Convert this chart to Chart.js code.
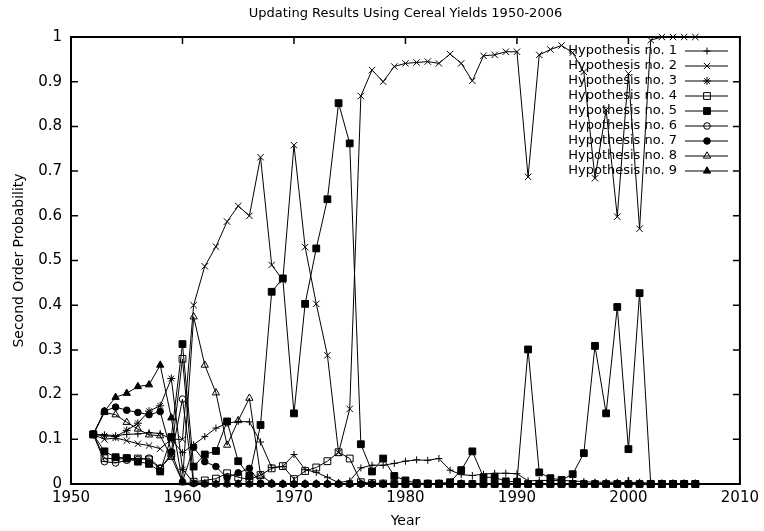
<!DOCTYPE html>
<html><head><meta charset="utf-8">
<script src="https://cdn.jsdelivr.net/npm/chart.js@4/dist/chart.umd.min.js"></script>
<style>html,body{margin:0;padding:0;background:#fff}</style>
</head><body>
<canvas id="c" width="764" height="531" style="width:764px;height:531px;display:block"></canvas>
<script>
const chartTitle = "Updating Results Using Cereal Yields 1950-2006";
const xTitle = "Year";
const yTitle = "Second Order Probability";
const xTicks = [1950,1960,1970,1980,1990,2000,2010];
const yTicks = [0,0.1,0.2,0.3,0.4,0.5,0.6,0.7,0.8,0.9,1];
const yTickLabels = ["0","0.1","0.2","0.3","0.4","0.5","0.6","0.7","0.8","0.9","1"];
const seriesNames = ["Hypothesis no. 1","Hypothesis no. 2","Hypothesis no. 3","Hypothesis no. 4","Hypothesis no. 5","Hypothesis no. 6","Hypothesis no. 7","Hypothesis no. 8","Hypothesis no. 9"];
const years = [1952,1953,1954,1955,1956,1957,1958,1959,1960,1961,
1962,1963,1964,1965,1966,1967,1968,1969,1970,1971,
1972,1973,1974,1975,1976,1977,1978,1979,1980,1981,
1982,1983,1984,1985,1986,1987,1988,1989,1990,1991,
1992,1993,1994,1995,1996,1997,1998,1999,2000,2001,
2002,2003,2004,2005,2006];
const hyp1 = [0.111,0.110,0.108,0.111,0.112,0.115,0.113,0.100,0.070,0.088,
0.106,0.125,0.136,0.140,0.139,0.094,0.037,0.039,0.066,0.032,
0.026,0.015,0.003,0.007,0.036,0.042,0.042,0.046,0.051,0.054,
0.053,0.057,0.031,0.021,0.019,0.022,0.024,0.024,0.023,0.007,
0.008,0.008,0.008,0.007,0.005,0.004,0.004,0.004,0.003,0.004,
0.001,0,0,0,0];
const hyp2 = [0.111,0.100,0.103,0.097,0.090,0.086,0.079,0.100,0.100,0.400,
0.487,0.531,0.587,0.622,0.600,0.731,0.490,0.456,0.758,0.530,
0.403,0.288,0.070,0.168,0.868,0.926,0.900,0.934,0.941,0.943,
0.945,0.941,0.962,0.941,0.902,0.958,0.960,0.967,0.967,0.687,
0.960,0.972,0.981,0.965,0.922,0.684,0.837,0.598,0.918,0.571,
0.993,1,1,1,1];
const hyp3 = [0.111,0.108,0.106,0.120,0.136,0.163,0.175,0.236,0.033,0.003,
0.002,0.001,0.001,0.001,0.001,0,0,0,0,0,
0,0,0,0,0,0,0,0,0,0,
0,0,0,0,0,0,0,0,0,0,
0,0,0,0,0,0,0,0,0,0,
0,0,0,0,0];
const hyp4 = [0.111,0.058,0.056,0.057,0.057,0.055,0.034,0.068,0.280,0.005,
0.008,0.012,0.024,0.015,0.010,0.020,0.035,0.040,0.011,0.029,
0.037,0.051,0.071,0.057,0.004,0.002,0.001,0,0,0,
0,0,0,0,0,0,0,0,0,0,
0,0,0,0,0,0,0,0,0,0,
0,0,0,0,0];
const hyp5 = [0.111,0.073,0.060,0.058,0.050,0.045,0.028,0.105,0.313,0.039,
0.066,0.074,0.140,0.051,0.018,0.132,0.430,0.460,0.158,0.403,
0.527,0.637,0.852,0.762,0.089,0.028,0.057,0.018,0.008,0.002,
0.001,0.001,0.004,0.031,0.073,0.015,0.015,0.006,0.005,0.301,
0.026,0.013,0.009,0.022,0.069,0.309,0.158,0.396,0.078,0.427,
0,0,0,0,0];
const hyp6 = [0.111,0.050,0.047,0.053,0.055,0.058,0.036,0.062,0.190,0.001,
0,0,0,0,0,0,0,0,0,0,
0,0,0,0,0,0,0,0,0,0,
0,0,0,0,0,0,0,0,0,0,
0,0,0,0,0,0,0,0,0,0,
0,0,0,0,0];
const hyp7 = [0.111,0.163,0.172,0.165,0.160,0.155,0.162,0.072,0.005,0.082,
0.050,0.039,0.014,0.025,0.035,0.002,0.001,0,0,0,
0,0,0,0,0,0,0,0,0,0,
0,0,0,0,0,0,0,0,0,0,
0,0,0,0,0,0,0,0,0,0,
0,0,0,0,0];
const hyp8 = [0.111,0.160,0.155,0.138,0.123,0.110,0.108,0.060,0.005,0.374,
0.266,0.204,0.087,0.142,0.192,0.020,0.002,0,0,0,
0,0,0,0,0,0,0,0,0,0,
0,0,0,0,0,0,0,0,0,0,
0,0,0,0,0,0,0,0,0,0,
0,0,0,0,0];
const hyp9 = [0.111,0.163,0.194,0.203,0.218,0.222,0.266,0.148,0.003,0.001,
0,0,0,0,0,0,0,0,0,0,
0,0,0,0,0,0,0,0,0,0,
0,0,0,0,0,0,0,0,0,0,
0,0,0,0,0,0,0,0,0,0,
0,0,0,0,0];

const allSeries = [hyp1,hyp2,hyp3,hyp4,hyp5,hyp6,hyp7,hyp8,hyp9];
const markerStyles = [
  {style:'cross', r:3.5, fill:'rgba(0,0,0,0)'},
  {style:'crossRot', r:4.5, fill:'rgba(0,0,0,0)'},
  {style:'star', r:4, fill:'rgba(0,0,0,0)'},
  {style:'rect', r:4.8, fill:'rgba(0,0,0,0)'},
  {style:'rect', r:4.8, fill:'#000'},
  {style:'circle', r:3.3, fill:'rgba(0,0,0,0)'},
  {style:'circle', r:3.3, fill:'#000'},
  {style:'triangle', r:4.2, fill:'rgba(0,0,0,0)'},
  {style:'triangle', r:4.2, fill:'#000'}
];
const FONT = '"DejaVu Sans", "Liberation Sans", sans-serif';

const datasets = allSeries.map((vals, i) => ({
  label: seriesNames[i],
  data: years.map((yr, k) => ({x: yr, y: vals[k]})),
  borderColor: '#000',
  borderWidth: 1,
  pointStyle: markerStyles[i].style,
  pointRadius: markerStyles[i].r,
  pointBorderColor: '#000',
  pointBackgroundColor: markerStyles[i].fill,
  pointBorderWidth: 1,
  tension: 0,
  fill: false,
  clip: false
}));

function drawMarker(ctx, m, x, y) {
  if (Chart.helpers && Chart.helpers.drawPoint) {
    ctx.fillStyle = m.fill; ctx.strokeStyle = '#000'; ctx.lineWidth = 1;
    Chart.helpers.drawPoint(ctx, {pointStyle: m.style, radius: m.r, borderWidth: 1, rotation: 0}, x, y);
  }
}

const framePlugin = {
  id: 'frame',
  beforeDatasetsDraw(chart) {
    const {ctx, chartArea: a, scales: {x, y}} = chart;
    ctx.save();
    ctx.strokeStyle = '#000';
    ctx.lineWidth = 2;
    ctx.strokeRect(a.left, a.top, a.right - a.left, a.bottom - a.top);
    ctx.lineWidth = 1.5;
    ctx.beginPath();
    xTicks.forEach(v => {
      const px = x.getPixelForValue(v);
      ctx.moveTo(px, a.bottom); ctx.lineTo(px, a.bottom - 7);
      ctx.moveTo(px, a.top); ctx.lineTo(px, a.top + 7);
    });
    yTicks.forEach(v => {
      const py = y.getPixelForValue(v);
      ctx.moveTo(a.left, py); ctx.lineTo(a.left + 7, py);
      ctx.moveTo(a.right, py); ctx.lineTo(a.right - 7, py);
    });
    ctx.stroke();

    ctx.fillStyle = '#000';
    ctx.textAlign = 'center';
    ctx.textBaseline = 'middle';
    ctx.font = '13px ' + FONT;
    const cx = (a.left + a.right) / 2;
    ctx.fillText(chartTitle, cx, 14);
    ctx.font = '14px ' + FONT;
    ctx.fillText(xTitle, cx, 521);
    ctx.save();
    ctx.translate(19, (a.top + a.bottom) / 2);
    ctx.rotate(-Math.PI / 2);
    ctx.font = '14px ' + FONT;
    ctx.fillText(yTitle, 0, 0);
    ctx.restore();

    // legend
    ctx.font = '13px ' + FONT;
    ctx.textAlign = 'right';
    seriesNames.forEach((name, i) => {
      const ry = 51 + 15 * i;
      ctx.fillStyle = '#000';
      ctx.fillText(name, 677, ry);
      ctx.beginPath();
      ctx.lineWidth = 1;
      ctx.strokeStyle = '#000';
      ctx.moveTo(685, ry); ctx.lineTo(728, ry);
      ctx.stroke();
      drawMarker(ctx, markerStyles[i], 707, ry);
    });
    ctx.restore();
  }
};

new Chart(document.getElementById('c'), {
  type: 'line',
  data: {datasets},
  options: {
    responsive: false,
    animation: false,
    devicePixelRatio: 1,
    layout: {padding: {top: 37, right: 18, left: 0, bottom: 0}},
    plugins: {legend: {display: false}, title: {display: false}, tooltip: {enabled: false}},
    scales: {
      x: {
        type: 'linear', min: 1950, max: 2010,
        afterBuildTicks: s => { s.ticks = xTicks.map(v => ({value: v})); },
        afterFit: s => { s.height = 47; },
        ticks: {callback: v => String(v), color: '#000', font: {family: FONT, size: 15}, padding: 5, maxRotation: 0, autoSkip: false},
        grid: {display: false, drawTicks: false},
        border: {display: false}
      },
      y: {
        type: 'linear', min: 0, max: 1,
        afterBuildTicks: s => { s.ticks = yTicks.map(v => ({value: v})); },
        afterFit: s => { s.width = 71; },
        ticks: {callback: (v) => yTickLabels[yTicks.findIndex(t => Math.abs(t - v) < 1e-6)], color: '#000', font: {family: FONT, size: 15}, padding: 9, autoSkip: false},
        grid: {display: false, drawTicks: false},
        border: {display: false}
      }
    }
  },
  plugins: [framePlugin]
});
</script>
</body></html>
